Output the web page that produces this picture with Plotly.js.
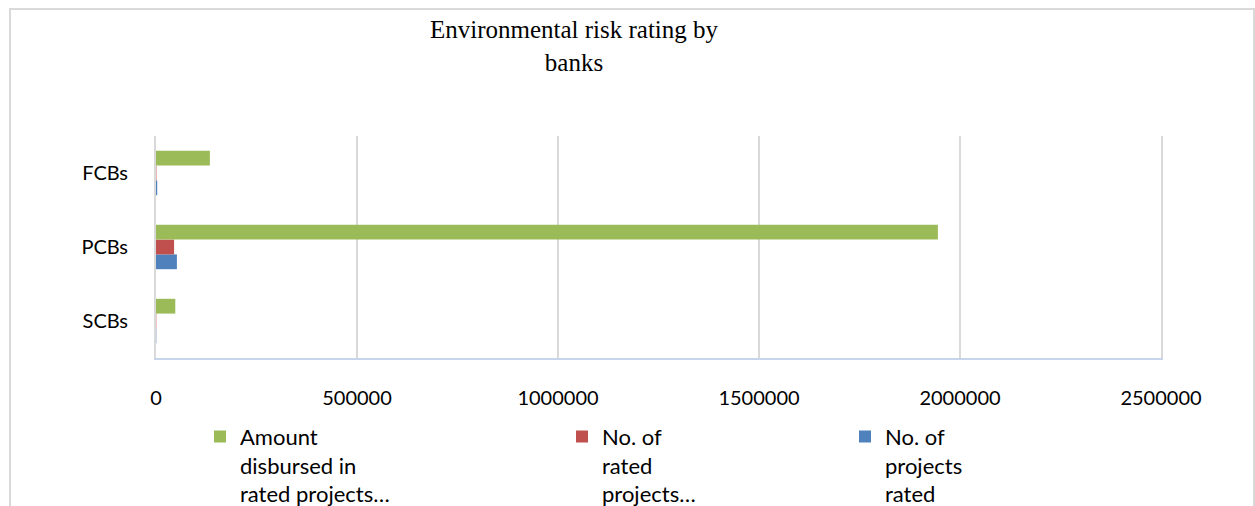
<!DOCTYPE html>
<html>
<head>
<meta charset="utf-8">
<script src="https://cdn.plot.ly/plotly-3.0.1.min.js"></script>
<style>
html,body{margin:0;padding:0;background:#fff;}
#wrap{position:relative;width:1255px;height:506px;overflow:hidden;}
#chart{position:absolute;left:0;top:0;width:1255px;height:506px;}
#frame{position:absolute;left:9px;top:8px;width:1242px;height:520px;border:2px solid #d9d9d9;pointer-events:none;}
</style>
</head>
<body>
<div id="wrap"><div id="chart"></div><div id="frame"></div></div>
<script>
const categories = ['SCBs', 'PCBs', 'FCBs'];
const amountDisbursed = [48000, 1945000, 134000];
const ratedProjectsNo = [800, 45000, 1000];
const projectsRatedNo = [800, 52000, 3000];
const seriesNames = [
  'Amount<br>disbursed in<br>rated projects…',
  'No. of<br>rated<br>projects…',
  'No. of<br>projects<br>rated'
];
const xTicks = [0, 500000, 1000000, 1500000, 2000000, 2500000];

const legendFont = {family: 'Lato, "Open Sans", sans-serif', size: 22, color: '#000'};
function legendAt(x) {
  return {x: x, y: -0.26, xref: 'paper', yref: 'paper', xanchor: 'left', yanchor: 'top',
    orientation: 'h', valign: 'top', font: legendFont, bgcolor: 'rgba(0,0,0,0)', borderwidth: 0};
}

const traces = [
  {type: 'bar', orientation: 'h', y: categories, x: projectsRatedNo, name: seriesNames[2],
   marker: {color: '#4f81bd'}, legend: 'legend3'},
  {type: 'bar', orientation: 'h', y: categories, x: ratedProjectsNo, name: seriesNames[1],
   marker: {color: '#c0504d'}, legend: 'legend2'},
  {type: 'bar', orientation: 'h', y: categories, x: amountDisbursed, name: seriesNames[0],
   marker: {color: '#9bbb59'}, legend: 'legend'}
];

const layout = {
  width: 1255, height: 506,
  margin: {l: 156, r: 94, t: 136, b: 148, autoexpand: false},
  paper_bgcolor: '#fff', plot_bgcolor: '#fff',
  barmode: 'group', bargap: 0.40, bargroupgap: 0,
  title: {text: 'Environmental risk rating by<br>banks', x: 574/1255, xref: 'container', xanchor: 'center',
    y: 1 - 38/506, yref: 'container', yanchor: 'middle',
    font: {family: '"Liberation Serif", "Times New Roman", serif', size: 25, color: '#000'}},
  xaxis: {range: [0, 2500000], tickvals: xTicks, ticktext: xTicks.map(String),
    showgrid: true, gridcolor: '#d9d9d9', gridwidth: 2, zeroline: false,
    showline: true, linecolor: '#c6d5ea', linewidth: 2, mirror: false,
    ticks: '', ticklabelstandoff: 21,
    tickfont: {family: 'Lato, "Open Sans", sans-serif', size: 20, color: '#000'}},
  yaxis: {type: 'category', categoryorder: 'array', categoryarray: categories,
    showgrid: false, zeroline: false, showline: true, linecolor: '#d9d9d9', linewidth: 2, mirror: true,
    ticks: '', ticklabelstandoff: 22,
    tickfont: {family: 'Lato, "Open Sans", sans-serif', size: 20, color: '#000'}},
  showlegend: true,
  legend: legendAt((223 - 20 - 156 - 3) / 1005),
  legend2: legendAt((585 - 20 - 156 - 3) / 1005),
  legend3: legendAt((868 - 20 - 156 - 3) / 1005)
};

Plotly.newPlot('chart', traces, layout, {displayModeBar: false, staticPlot: true});
</script>
</body>
</html>
